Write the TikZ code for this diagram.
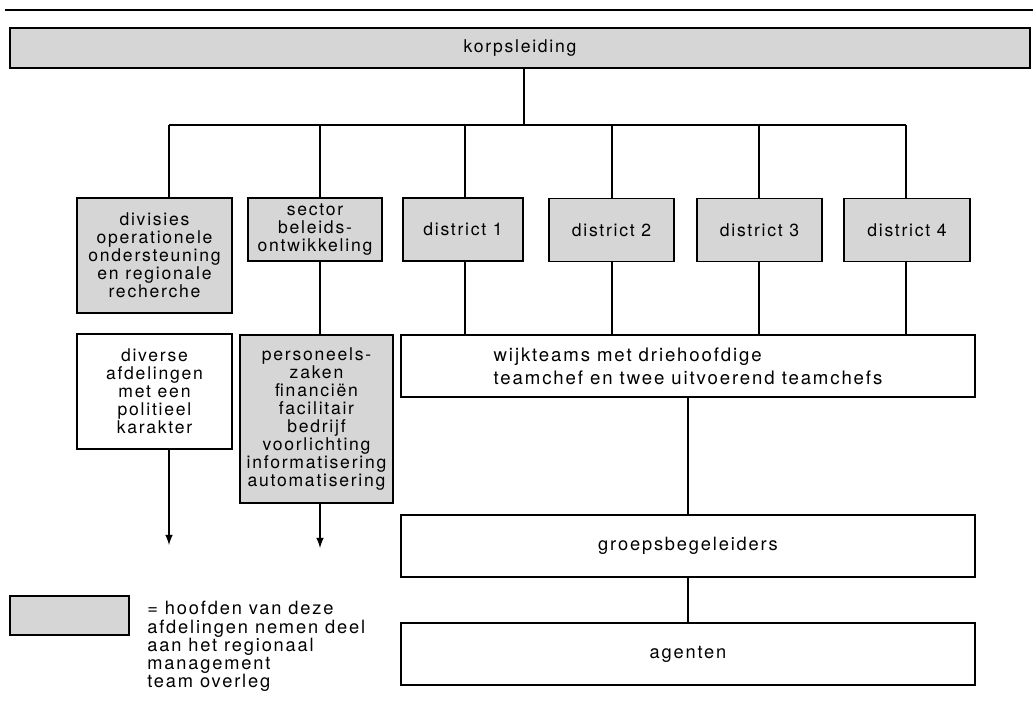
\documentclass[tikz,border=0pt]{standalone}
\usepackage{fontspec}
\setmainfont{TeX Gyre Heros}[LetterSpace=10]
\begin{document}
\begin{tikzpicture}[x=0.02cm, y=-0.02cm,
    box/.style={draw, line width=1.1pt, inner sep=0pt, align=center, font=\fontsize{10}{10.2}\selectfont},
    grey/.style={box, fill=black!16},
    link/.style={line width=1pt}]
  \useasboundingbox (0,0) rectangle (1033,706);
  \draw[line width=1pt] (5,10) -- (1033,10);
  \node[grey, minimum width=20.4cm, minimum height=0.8cm] (korps) at (520,48) {korpsleiding};
  \node[grey, minimum width=3.1cm, minimum height=2.3cm] (div) at (154.5,255.5) {divisies\\operationele\\ondersteuning\\en regionale\\recherche};
  \node[grey, minimum width=2.68cm, minimum height=1.26cm] (sec) at (315,229.5) {sector\\beleids-\\ontwikkeling};
  \node[grey, minimum width=2.4cm, minimum height=1.26cm] (d1) at (463,229.5) {district 1};
  \node[grey, minimum width=2.5cm, minimum height=1.26cm] (d2) at (611.5,230) {district 2};
  \node[grey, minimum width=2.5cm, minimum height=1.26cm] (d3) at (759.5,230) {district 3};
  \node[grey, minimum width=2.52cm, minimum height=1.26cm] (d4) at (907,230) {district 4};
  \node[box, minimum width=3.1cm, minimum height=2.3cm] (afd) at (154.5,391.5) {diverse\\afdelingen\\met een\\politieel\\karakter};
  \node[grey, minimum width=3.06cm, minimum height=3.36cm] (pers) at (316.5,419) {personeels-\\zaken\\financiën\\facilitair\\bedrijf\\voorlichting\\informatisering\\automatisering};
  \node[box, minimum width=11.48cm, minimum height=1.24cm, align=left, font=\fontsize{10.6}{13}\selectfont] (wijk) at (688,366) {wijkteams met driehoofdige\\teamchef en twee uitvoerend teamchefs};
  \node[box, minimum width=11.48cm, minimum height=1.24cm, font=\fontsize{10.4}{12}\selectfont] (groep) at (688,546) {groepsbegeleiders};
  \node[box, minimum width=11.48cm, minimum height=1.24cm, font=\fontsize{10.4}{12}\selectfont] (agent) at (688,654) {agenten};
  \node[grey, minimum width=2.38cm, minimum height=0.78cm] (leg) at (69.5,615.5) {};
  \node[anchor=north west, align=left, inner sep=0pt, font=\fontsize{10.4}{10.4}\selectfont] (legtext) at (147,601) {= hoofden van deze\\afdelingen nemen deel\\aan het regionaal\\management\\team overleg};
  \coordinate (bk) at (524,125);
  \coordinate (b1) at (169,125);
  \coordinate (b2) at (320,125);
  \coordinate (b3) at (465,125);
  \coordinate (b4) at (612,125);
  \coordinate (b5) at (759,125);
  \coordinate (b6) at (906,125);
  \coordinate (end1) at (169,545);
  \coordinate (end2) at (320,548);
  \draw[link] (b1) -- (b6);
  \draw[link] (bk |- korps.south) -- (bk);
  \foreach \b/\n in {b1/div, b2/sec, b3/d1, b4/d2, b5/d3, b6/d4}
    \draw[link] (\b) -- (\b |- \n.north);
  \foreach \b/\n in {b3/d1, b4/d2, b5/d3, b6/d4}
    \draw[link] (\b |- \n.south) -- (\b |- wijk.north);
  \draw[link] (b2 |- sec.south) -- (b2 |- pers.north);
  \draw[link] (wijk) -- (groep);
  \draw[link] (groep) -- (agent);
  \draw[link, -latex] (b1 |- afd.south) -- (end1);
  \draw[link, -latex] (b2 |- pers.south) -- (end2);
\end{tikzpicture}
\end{document}
